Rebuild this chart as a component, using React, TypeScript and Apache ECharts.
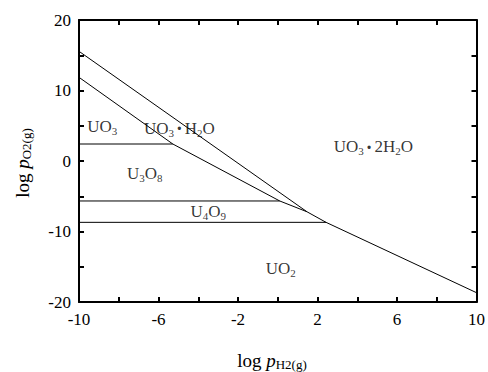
import React, { useEffect, useRef } from 'react';
import * as echarts from 'echarts';

const FONT = 'Liberation Serif';

// axis ticks
const xLabelValues = [-10, -6, -2, 2, 6, 10];
const yLabelValues = [-20, -10, 0, 10, 20];

// upper boundary line (UO3·H2O / UO3·2H2O)
const line1X = [-10, 1.47];
const line1Y = [15.56, -7.2];

// lower boundary polyline
const line2X = [-10, -5.28, 0.1, 1.47, 2.43, 10];
const line2Y = [11.87, 2.41, -5.67, -7.2, -8.7, -18.68];

// horizontal boundaries
const hLineY = [2.41, -5.67, -8.7];
const hLineEndX = [-5.28, 0.1, 2.43];

// phase labels
const phaseNames = ['UO3', 'UO3·H2O', 'U3O8', 'UO3·2H2O', 'U4O9', 'UO2'];
const phaseX = [-8.83, -4.95, -6.69, 4.81, -3.5, 0.15];
const phaseY = [4.9, 4.68, -1.75, 2.03, -7.19, -15.2];

function toRich(name: string): string {
  let out = '';
  for (let i = 0; i < name.length; i++) {
    const c = name[i];
    if (/\d/.test(c) && i > 0 && /[A-Za-z]/.test(name[i - 1])) out += `{s|${c}}`;
    else if (c === '·') out += '{d|·}';
    else out += `{n|${c}}`;
  }
  return out;
}

export default function App() {
  const ref = useRef<HTMLDivElement>(null);
  useEffect(() => {
    document.body.style.margin = '0';
    const chart = echarts.init(ref.current!, undefined, { renderer: 'svg' });
    const axisLineStyle = { color: '#000', width: 2 };
    const tick = { show: true, inside: true, length: 5, lineStyle: { color: '#000', width: 2 } };
    const labelRich = {
      n: { fontSize: 17, fontFamily: FONT, color: '#000', lineHeight: 20 },
      s: { fontSize: 11, fontFamily: FONT, color: '#000', verticalAlign: 'bottom', lineHeight: 12 },
      d: { fontSize: 20, fontWeight: 'bold', fontFamily: FONT, color: '#000', lineHeight: 20, padding: [0, 2] },
    };
    const nameRich = {
      a: { fontSize: 19, fontFamily: FONT, fill: '#000', lineHeight: 22 },
      i: { fontSize: 19, fontFamily: FONT, fontStyle: 'italic', fill: '#000', lineHeight: 22 },
      b: { fontSize: 13, fontFamily: FONT, fill: '#000', verticalAlign: 'bottom', lineHeight: 14 },
    };
    const lineSeries = (xs: number[], ys: number[]) => ({
      type: 'line',
      data: xs.map((x, i) => [x, ys[i]]),
      showSymbol: false,
      symbol: 'none',
      lineStyle: { color: '#000', width: 1 },
      silent: true,
    });
    const option: any = {
      animation: false,
      textStyle: { fontFamily: FONT },
      grid: { left: 79, right: 9, top: 20, bottom: 70 },
      xAxis: [
        {
          type: 'value', min: -10, max: 10, interval: 2, position: 'bottom',
          axisLine: { show: true, onZero: false, lineStyle: axisLineStyle },
          axisTick: tick,
          splitLine: { show: false },
          axisLabel: {
            margin: 9, fontSize: 17, fontFamily: FONT, color: '#000',
            formatter: (v: number) => (xLabelValues.includes(v) ? String(v) : ''),
          },
        },
        {
          type: 'value', min: -10, max: 10, interval: 2, position: 'top',
          axisLine: { show: true, onZero: false, lineStyle: axisLineStyle },
          axisTick: tick, splitLine: { show: false }, axisLabel: { show: false },
        },
      ],
      yAxis: [
        {
          type: 'value', min: -20, max: 20, interval: 5, position: 'left',
          axisLine: { show: true, onZero: false, lineStyle: axisLineStyle },
          axisTick: tick,
          splitLine: { show: false },
          axisLabel: {
            margin: 8, fontSize: 17, fontFamily: FONT, color: '#000',
            formatter: (v: number) => (yLabelValues.includes(v) ? String(v) : ''),
          },
        },
        {
          type: 'value', min: -20, max: 20, interval: 5, position: 'right',
          axisLine: { show: true, onZero: false, lineStyle: axisLineStyle },
          axisTick: tick, splitLine: { show: false }, axisLabel: { show: false },
        },
      ],
      series: [
        lineSeries(line1X, line1Y),
        lineSeries(line2X, line2Y),
        ...hLineY.map((y, i) => lineSeries([-10, hLineEndX[i]], [y, y])),
        {
          type: 'scatter',
          symbolSize: 0,
          silent: true,
          data: phaseNames.map((n, i) => ({ name: n, value: [phaseX[i], phaseY[i]] })),
          label: {
            show: true,
            position: 'inside',
            color: '#000',
            formatter: (p: any) => toRich(p.name),
            rich: labelRich,
          },
        },
      ],
      graphic: [
        {
          type: 'text', x: 272, y: 360,
          style: { text: '{a|log }{i|p}{b|H2(g)}', rich: nameRich, align: 'center', verticalAlign: 'middle' },
        },
        {
          type: 'text', x: 22, y: 163, rotation: Math.PI / 2,
          style: { text: '{a|log }{i|p}{b|O2(g)}', rich: nameRich, align: 'center', verticalAlign: 'middle' },
        },
      ],
    };
    chart.setOption(option);
    return () => chart.dispose();
  }, []);
  return <div ref={ref} style={{ width: 488, height: 372 }} />;
}
